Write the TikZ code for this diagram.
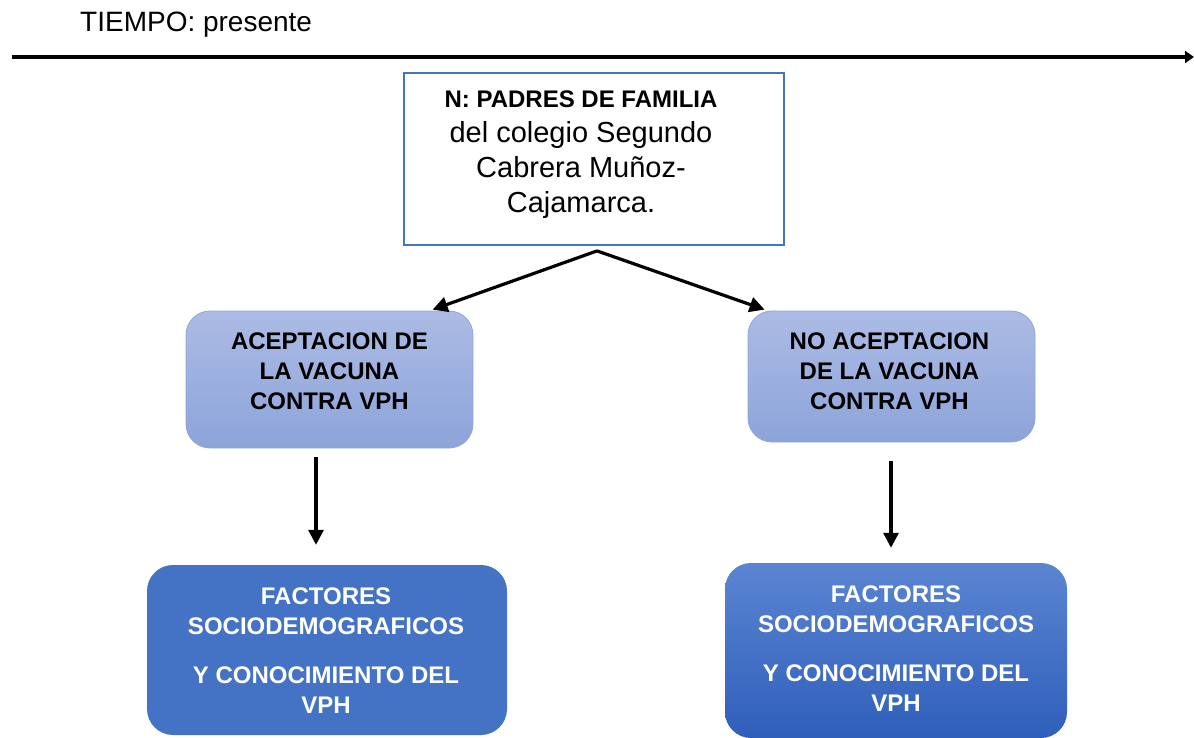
\documentclass[tikz,border=0pt]{standalone}
\usepackage{fontspec}
\setmainfont{Liberation Sans}
\usetikzlibrary{arrows.meta,calc}
\definecolor{accent}{HTML}{4472C4}
\definecolor{lighttop}{HTML}{ABBBE4}
\definecolor{lightbot}{HTML}{8DA4DA}
\definecolor{lightline}{HTML}{8FA6DA}
\definecolor{darktop}{HTML}{5B85D1}
\definecolor{darkbot}{HTML}{2F5FBB}
\tikzset{
  conn/.style={line width=3.2pt,-{Triangle[length=15pt,width=15pt]}},
  boldtxt/.style={font=\fontsize{24}{30}\selectfont\bfseries,align=center,inner sep=0pt},
  lightbox/.style={rounded corners=24pt,draw=lightline,line width=0.8pt,top color=lighttop,bottom color=lightbot,
    minimum width=287pt,inner sep=0pt},
  darkbox/.style={rounded corners=26pt,boldtxt,text=white,inner sep=0pt},
}
\begin{document}
\begin{tikzpicture}[x=1pt,y=-1pt]
\useasboundingbox (0,0) rectangle (1194,738);
\node[anchor=base west,font=\fontsize{28}{34}\selectfont,inner sep=0pt] (tiempo) at (80,32) {TIEMPO: presente};
\coordinate (tl0) at (12,57);
\coordinate (tl1) at (1194,57);
\draw[line width=3.8pt,-{Triangle[length=9pt,width=12pt]}] (tl0) -- (tl1);

\node[draw=accent,line width=1.8pt,fill=white,minimum width=380pt,minimum height=172pt,inner sep=0pt] (top) at (594,159) {};
\node[align=center,inner sep=0pt,font=\fontsize{29}{35}\selectfont] (toptext) at (581,155) {{\fontsize{24}{30}\selectfont\bfseries N: PADRES DE FAMILIA}\\[0pt]
  del colegio Segundo\\Cabrera Muñoz-\\Cajamarca.};

\node[lightbox,minimum height=137pt] (acep) at (329.5,379.5) {};
\node[boldtxt] (aceptxt) at (329.5,371.5) {ACEPTACION DE\\LA VACUNA\\CONTRA VPH};
\node[lightbox,minimum height=131pt] (noacep) at (891.5,376.5) {};
\node[boldtxt] (noaceptxt) at (889.5,371.5) {NO ACEPTACION\\DE LA VACUNA\\CONTRA VPH};

\node[darkbox,fill=accent,minimum width=360pt,minimum height=170pt] (fac1) at (327,650) {};
\node[boldtxt,text=white] (fac1txt) at (326,650.5) {FACTORES\\SOCIODEMOGRAFICOS\\[19pt]Y CONOCIMIENTO DEL\\VPH};
\node[darkbox,top color=darktop,bottom color=darkbot,minimum width=342pt,minimum height=175pt] (fac2) at (896,650.5) {};
\node[boldtxt,text=white] (fac2txt) at (896,648.5) {FACTORES\\SOCIODEMOGRAFICOS\\[19pt]Y CONOCIMIENTO DEL\\VPH};

\coordinate (split) at ($(top.south)+(3,5)$);
\draw[conn] (split) -- ($(acep.north west)+(247,-1)$);
\draw[conn] (split) -- ($(noacep.north west)+(17,-1)$);
\draw[conn] ($(acep.south)+(-13.5,9)$) -- ($(fac1.north)+(-11,-20)$);
\draw[conn] ($(noacep.south)+(-0.5,19)$) -- ($(fac2.north)+(-5,-15)$);
\end{tikzpicture}
\end{document}
